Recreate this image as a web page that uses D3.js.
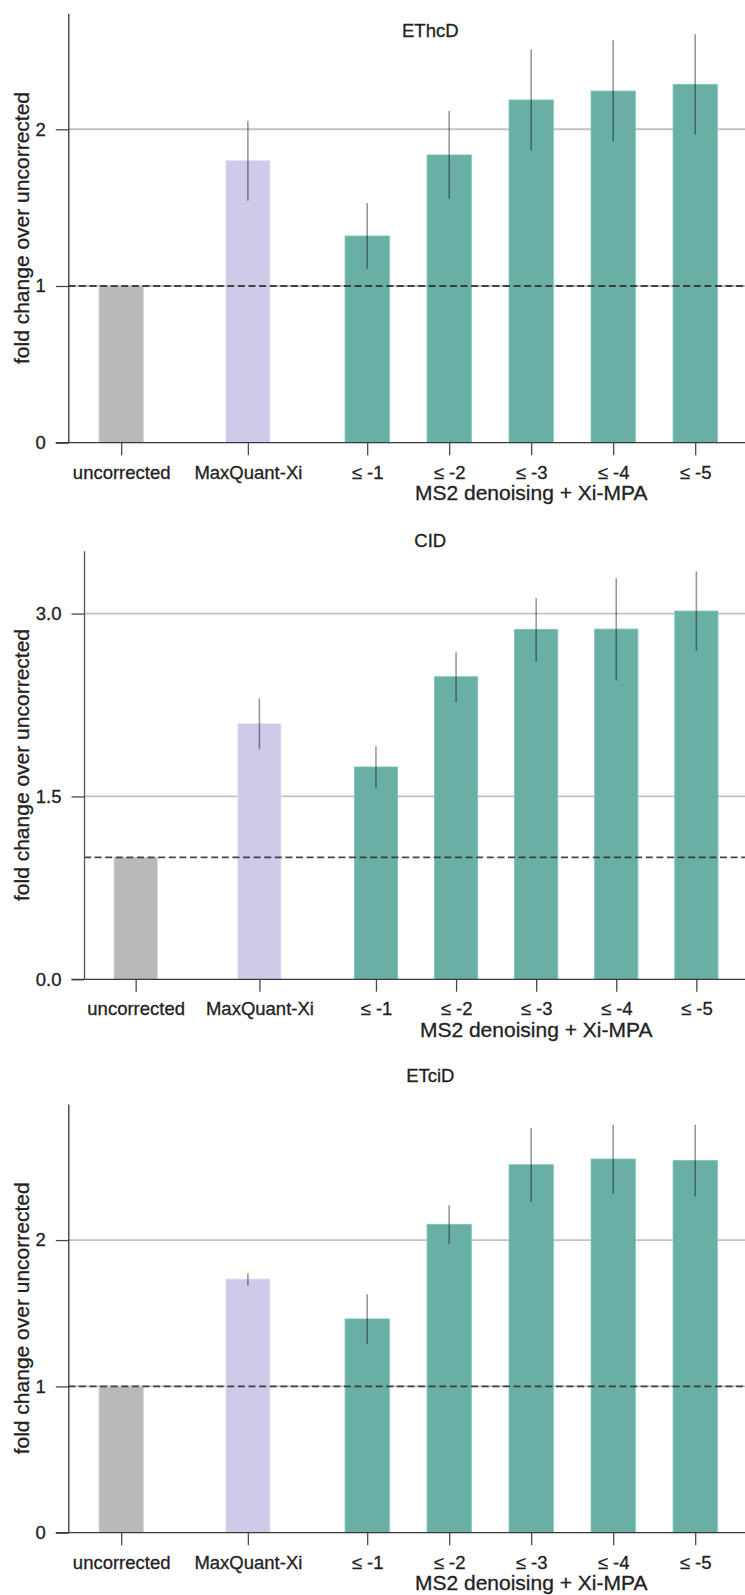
<!DOCTYPE html>
<html>
<head>
<meta charset="utf-8">
<script src="https://cdn.jsdelivr.net/npm/d3@7"></script>
<style>
  html, body { margin: 0; padding: 0; background: #ffffff; }
  svg { display: block; }
  text { font-family: "Liberation Sans", Arial, Helvetica, sans-serif; fill: #222222; stroke: #222222; stroke-width: 0.3px; }
</style>
</head>
<body>
<svg id="chart" width="745" height="1595"></svg>
<script>
// ---------------- data ----------------
const categories = ["uncorrected", "MaxQuant-Xi", "≤ -1", "≤ -2", "≤ -3", "≤ -4", "≤ -5"];
const categoryGroup = [0, 1, 2, 2, 2, 2, 2];
const groupLabel = "MS2 denoising + Xi-MPA";
const yAxisLabel = "fold change over uncorrected";
const panelTitles = ["EThcD", "CID", "ETciD"];

const ethcdValues = [1.0, 1.802, 1.319, 1.836, 2.187, 2.244, 2.287];
const ethcdLow    = [null, 1.544, 1.110, 1.555, 1.864, 1.921, 1.966];
const ethcdHigh   = [null, 2.055, 1.530, 2.117, 2.511, 2.568, 2.606];

const cidValues = [1.0, 2.100, 1.742, 2.482, 2.871, 2.873, 3.021];
const cidLow    = [null, 1.887, 1.572, 2.275, 2.609, 2.450, 2.696];
const cidHigh   = [null, 2.305, 1.911, 2.682, 3.125, 3.290, 3.347];

const etcidValues = [1.0, 1.734, 1.461, 2.108, 2.515, 2.554, 2.545];
const etcidLow    = [null, 1.688, 1.292, 1.973, 2.260, 2.317, 2.297];
const etcidHigh   = [null, 1.773, 1.630, 2.238, 2.766, 2.789, 2.789];

const yMaxes = [2.74, 3.516, 2.93];
const yTickValues = [[0, 1, 2], [0, 1.5, 3.0], [0, 1, 2]];
const yTickLabels = [["0", "1", "2"], ["0.0", "1.5", "3.0"], ["0", "1", "2"]];
const referenceLine = 1.0;

// ---------------- layout / style ----------------
const W = 745;
const panelLayout = [
  { left: 68.3, top: 13.3,  bottom: 442.7,  unit: 82.0, titleY: 37.3, spine: "#333333" },
  { left: 84.0, top: 550.7, bottom: 979.3,  unit: 80.1, titleY: 546.7, spine: "#555555" },
  { left: 68.3, top: 1104,  bottom: 1532.7, unit: 82.0, titleY: 1082, spine: "#333333" }
];
const groupGapAfter = [0.545, 0.455];  // extra spacing after group 0 and group 1
const barColors = ["#b9b9b9", "#cecbe8", "#6aafa4", "#6aafa4", "#6aafa4", "#6aafa4", "#6aafa4"];
const tickLen = 12.5;

// slot positions (in bar units) computed from group membership
const slots = [];
{
  let p = 0;
  categories.forEach((c, i) => {
    if (i > 0) {
      p += 1;
      if (categoryGroup[i] !== categoryGroup[i - 1]) p += groupGapAfter[categoryGroup[i - 1]];
    }
    slots.push(p);
  });
}
const msIdx = categories.map((c, i) => i).filter(i => categoryGroup[i] === 2);
const msCenter = (slots[msIdx[0]] + slots[msIdx[msIdx.length - 1]]) / 2;

const panels = [
  { title: panelTitles[0], values: ethcdValues, low: ethcdLow, high: ethcdHigh },
  { title: panelTitles[1], values: cidValues, low: cidLow, high: cidHigh },
  { title: panelTitles[2], values: etcidValues, low: etcidLow, high: etcidHigh }
];

const svg = d3.select("#chart");
svg.append("rect").attr("x", 0).attr("y", 0).attr("width", W).attr("height", 1595).attr("fill", "#ffffff");

panels.forEach((panel, k) => {
  const L = panelLayout[k];
  const g = svg.append("g");

  const x0 = L.left + 0.645 * L.unit;
  const x = d3.scaleLinear().domain([0, 1]).range([x0, x0 + L.unit]);
  const y = d3.scaleLinear().domain([0, yMaxes[k]]).range([L.bottom, L.top]);
  const barW = 0.54 * L.unit;

  // gridlines
  g.append("g").selectAll("line")
    .data(yTickValues[k].filter(v => v !== 0))
    .join("line")
    .attr("x1", L.left).attr("x2", W)
    .attr("y1", d => y(d)).attr("y2", d => y(d))
    .attr("stroke", "#c2c2c2").attr("stroke-width", 1.8);

  // bars
  g.append("g").selectAll("rect")
    .data(panel.values.map((v, i) => ({ v, i })))
    .join("rect")
    .attr("x", d => x(slots[d.i]) - barW / 2)
    .attr("width", barW)
    .attr("y", d => y(d.v))
    .attr("height", d => y(0) - y(d.v))
    .attr("fill", d => barColors[d.i])
    .attr("stroke", d => d3.color(barColors[d.i]).brighter(0.35))
    .attr("stroke-width", 0.8);

  // reference dashed line
  g.append("line")
    .attr("x1", L.left).attr("x2", W)
    .attr("y1", y(referenceLine)).attr("y2", y(referenceLine))
    .attr("stroke", "#333333").attr("stroke-opacity", 0.9)
    .attr("stroke-width", 1.8).attr("stroke-dasharray", "7,3.6");

  // error bars
  g.append("g").selectAll("line")
    .data(panel.values.map((v, i) => ({ lo: panel.low[i], hi: panel.high[i], i })).filter(d => d.lo !== null))
    .join("line")
    .attr("x1", d => x(slots[d.i])).attr("x2", d => x(slots[d.i]))
    .attr("y1", d => y(d.lo)).attr("y2", d => y(d.hi))
    .attr("stroke", "#000000").attr("stroke-opacity", 0.4).attr("stroke-width", 1.6);

  // y axis
  const yAxis = d3.axisLeft(y)
    .tickValues(yTickValues[k])
    .tickFormat((d, i) => yTickLabels[k][i])
    .tickSize(tickLen).tickSizeOuter(0).tickPadding(10);
  const ya = g.append("g").attr("transform", `translate(${L.left},0)`).call(yAxis);
  ya.select(".domain").attr("stroke", L.spine).attr("stroke-width", 1.3);
  ya.selectAll(".tick line").attr("stroke", "#4a4a4a").attr("stroke-width", 1.3);
  ya.selectAll(".tick text").style("font-size", "18.5px").attr("fill", "#222222");

  // x axis
  const xAxis = d3.axisBottom(x)
    .tickValues(slots)
    .tickFormat((d, i) => categories[i])
    .tickSize(tickLen).tickSizeOuter(0).tickPadding(10.5);
  const xa = g.append("g").attr("transform", `translate(0,${L.bottom})`).call(xAxis);
  xa.select(".domain").remove();
  xa.selectAll(".tick line").attr("stroke", "#4a4a4a").attr("stroke-width", 1.3);
  xa.selectAll(".tick text").style("font-size", "18.5px").attr("fill", "#222222");
  g.append("line")
    .attr("x1", L.left - tickLen).attr("x2", W)
    .attr("y1", L.bottom).attr("y2", L.bottom)
    .attr("stroke", "#3a3a3a").attr("stroke-width", 1.3);

  // group label
  g.append("text")
    .attr("x", x(msCenter)).attr("y", L.bottom + 57.3)
    .attr("text-anchor", "middle")
    .style("font-size", "21px")
    .text(groupLabel);

  // y axis label
  g.append("text")
    .attr("transform", `translate(28.5,${(L.top + L.bottom) / 2}) rotate(-90)`)
    .attr("text-anchor", "middle")
    .style("font-size", "21px")
    .text(yAxisLabel);

  // title
  g.append("text")
    .attr("x", 430.3).attr("y", L.titleY)
    .attr("text-anchor", "middle")
    .style("font-size", "18.5px")
    .text(panel.title);
});
</script>
</body>
</html>
